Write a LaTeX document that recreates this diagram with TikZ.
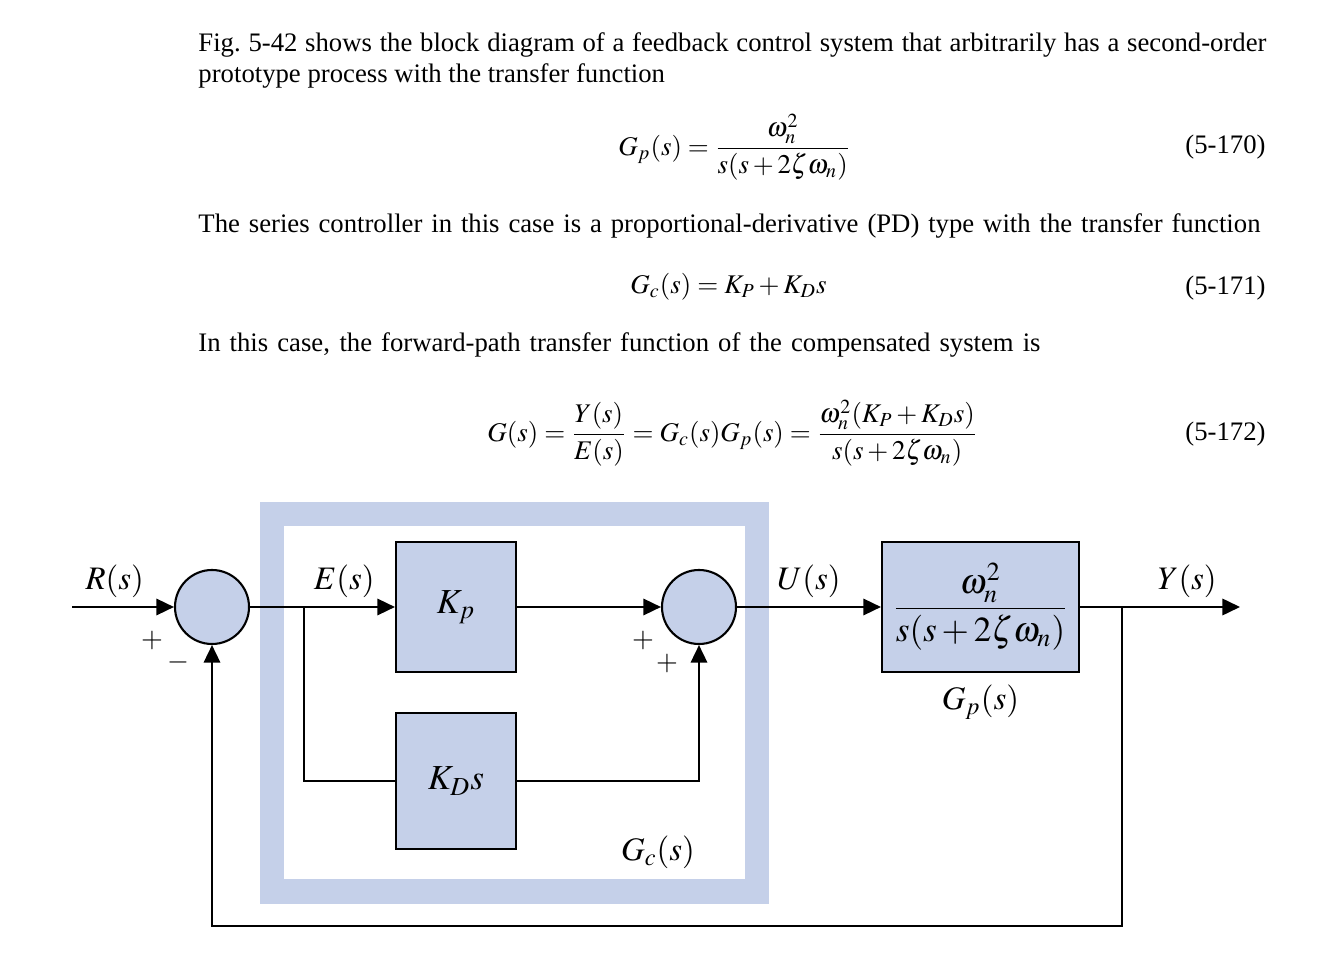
\documentclass[tikz,border=0pt]{standalone}
\usepackage{amsmath}
\usepackage{mathptmx}
\usepackage{fontspec}
\setmainfont{Liberation Serif}
\usetikzlibrary{positioning,arrows.meta,calc}
\definecolor{gcblue}{RGB}{197,208,233}

\begin{document}
\begin{tikzpicture}[x=0.015cm,y=-0.015cm,
   sig/.style={line width=0.9pt},
   tip/.style={-{Triangle[length=7.5pt,width=7pt]}},
   blk/.style={draw,line width=0.9pt,fill=gcblue,minimum width=1.8cm,minimum height=1.95cm,font=\fontsize{15}{18}\selectfont},
   sum/.style={draw,circle,line width=0.9pt,fill=gcblue,minimum size=1.11cm,inner sep=0pt},
   lbl/.style={font=\fontsize{14}{17}\selectfont},
   sgn/.style={font=\fontsize{12}{14}\selectfont,inner sep=0pt},
   txt/.style={anchor=base west,inner sep=0pt,font=\fontsize{11.4}{13.5}\selectfont},
   eqn/.style={anchor=west,inner sep=0pt,font=\fontsize{11.5}{13.5}\selectfont},
   eqno/.style={anchor=base east,inner sep=0pt,font=\fontsize{11.4}{13.5}\selectfont}]
   \useasboundingbox (0,0) rectangle (1338,972);

   % text above the diagram
   \node[txt] (l1) at (198,52) {\makebox[16.02cm][s]{Fig.\ 5-42 shows the block diagram of a feedback control system that arbitrarily has a second-order}};
   \node[txt] (l2) at (198,83) {prototype process with the transfer function};
   \node[eqn] (e1) at (618,147) {$G_p(s)=\dfrac{\omega_n^2}{s(s+2\zeta\omega_n)}$};
   \node[eqno] (n1) at (1266,154) {(5-170)};
   \node[txt] (l3) at (198,233) {\makebox[15.93cm][s]{The series controller in this case is a proportional-derivative (PD) type with the transfer function}};
   \node[eqn] (e2) at (630,287) {$G_c(s)=K_P+K_Ds$};
   \node[eqno] (n2) at (1266,295) {(5-171)};
   \node[txt] (l4) at (198,352) {\makebox[12.63cm][s]{In this case, the forward-path transfer function of the compensated system is}};
   \node[eqn] (e3) at (487,433) {$G(s)=\dfrac{Y(s)}{E(s)}=G_c(s)G_p(s)=\dfrac{\omega_n^2(K_P+K_Ds)}{s(s+2\zeta\omega_n)}$};
   \node[eqno] (n3) at (1266,441) {(5-172)};

   % controller frame
   \draw[gcblue,line width=0.36cm] (272,514) rectangle (756.5,891.5);

   \node[sum] (s1) at (212,607) {};
   \node[sum] (s2) at (699,607) {};
   \node[blk] (kp) at (456,607) {$K_p$};
   \node[blk,minimum height=2.03cm] (kd) at (456,781) {$K_Ds$};
   \node[blk,minimum width=2.955cm] (gp) at (980.5,607) {$\dfrac{\omega_n^{2}}{s(s+2\zeta\omega_n)}$};
   \node[lbl] (gpl) [below=0.05cm of gp] {$G_p(s)$};
   \node[lbl] (gcl) at (658,852) {$G_c(s)$};

   \coordinate (rin) at (72,607);
   \coordinate (eb) at (304,607);
   \coordinate (yb) at (1122,607);
   \coordinate (yout) at (1240,607);
   \coordinate (fb) at (1122,926);

   \path[sig,tip]
    (rin) edge node[lbl,pos=0.42,above] {$R(s)$} (s1)
    (s1) edge node[lbl,pos=0.65,above] {$E(s)$} (kp)
    (kp) edge (s2)
    (s2) edge node[lbl,above] {$U(s)$} (gp)
    (gp) edge node[lbl,pos=0.67,above] {$Y(s)$} (yout);
   \draw[sig] (eb) |- (kd.west);
   \draw[sig,tip] (kd.east) -| (s2.south);
   \draw[sig,tip] (yb) -- (fb) -| (s1.south);

   \node[sgn] (p1) at (152,640) {$+$};
   \node[sgn] (m1) at (178,662) {$-$};
   \node[sgn] (p2) at (643,640) {$+$};
   \node[sgn] (p3) at (667,663) {$+$};
\end{tikzpicture}
\end{document}
